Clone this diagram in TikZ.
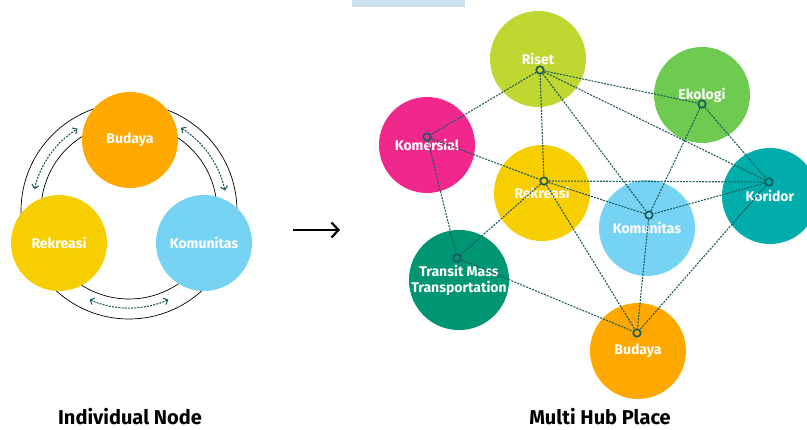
\documentclass[tikz,border=0pt]{standalone}
\usepackage{fontspec}
\setmainfont{Fira Sans}
\usepackage{xcolor}
\usetikzlibrary{arrows.meta}
\tikzset{>=latex}
\definecolor{budaya}{RGB}{255,168,0}
\definecolor{rekreasi}{RGB}{247,206,0}
\definecolor{komunitas}{RGB}{118,211,243}
\definecolor{riset}{RGB}{191,215,48}
\definecolor{ekologi}{RGB}{111,203,79}
\definecolor{komersial}{RGB}{240,40,140}
\definecolor{koridor}{RGB}{0,173,170}
\definecolor{transit}{RGB}{0,150,115}
\definecolor{linkcol}{RGB}{30,91,94}
\definecolor{topbar}{RGB}{204,224,238}
\tikzset{
    place/.style={circle, minimum size=96pt, inner sep=0pt, text=white, align=center,
        font=\fontsize{14}{16}\selectfont\bfseries},
    hubdot/.style={circle, draw=linkcol, line width=1.7pt, minimum size=7.5pt, inner sep=0pt},
    link/.style={linkcol, line width=1.1pt, dash pattern=on 2pt off 1.2pt},
    ring/.style={line width=0.7pt},
    title/.style={font=\fontsize{20}{22}\selectfont\bfseries}
}

\begin{document}
\begin{tikzpicture}[x=1pt, y=-1pt]
    \useasboundingbox (0,0) rectangle (807,430);
    \fill [topbar] (352,0) rectangle (465,7);

    % individual node
    \begin{scope}
        \draw [ring] (129,211) circle (108);
        \draw [ring] (129,211) circle (88);
        \draw [link, {Straight Barb[length=3.5pt]}-{Straight Barb[length=3.5pt]}] (129,211) ++(193:97) arc [start angle=193, end angle=238, radius=97];
        \draw [link, {Straight Barb[length=3.5pt]}-{Straight Barb[length=3.5pt]}] (129,211) ++(302:98) arc [start angle=302, end angle=348, radius=98];
        \draw [link, {Straight Barb[length=3.5pt]}-{Straight Barb[length=3.5pt]}] (129,211) ++(66:97) arc [start angle=66, end angle=114, radius=97];
        \node [place, fill=budaya] (budaya-l) at (130,140) {Budaya};
        \node [place, fill=rekreasi] (rekreasi-l) at (59,243) {Rekreasi};
        \node [place, fill=komunitas] (komunitas-l) at (204,243) {Komunitas};
        \node [title] (title-l) at (130,417) {Individual Node};
    \end{scope}

    \coordinate (arr-a) at (293,230);
    \coordinate (arr-b) at (340,230);
    \draw [line width=2.2pt, -{Straight Barb[length=7pt, width=15pt]}] (arr-a) -- (arr-b);

    % multi hub place
    \begin{scope}
        \node [place, fill=riset] (riset) at (538,59) {Riset};
        \node [place, fill=ekologi] (ekologi) at (702,95) {Ekologi};
        \node [place, fill=komersial] (komersial) at (427,145) {Komersial};
        \node [place, fill=rekreasi] (rekreasi) at (542,193) {Rekreasi};
        \node [place, fill=koridor] (koridor) at (770,196) {Koridor};
        \node [place, fill=komunitas] (komunitas) at (647,228) {Komunitas};
        \node [place, fill=transit] (transit) at (459,280) {Transit Mass\\Transportation};
        \node [place, fill=budaya] (budaya) at (638,351) {Budaya};

        \node [hubdot] (riset-p) at (540,70) {};
        \node [hubdot] (ekologi-p) at (702,104) {};
        \node [hubdot] (komersial-p) at (427,137) {};
        \node [hubdot] (rekreasi-p) at (544,181) {};
        \node [hubdot] (koridor-p) at (769,182) {};
        \node [hubdot] (komunitas-p) at (649,215) {};
        \node [hubdot] (transit-p) at (457,258) {};
        \node [hubdot] (budaya-p) at (637,333) {};

        \draw [link] (riset-p) -- (komersial-p);
        \draw [link] (riset-p) -- (rekreasi-p);
        \draw [link] (riset-p) -- (ekologi-p);
        \draw [link] (riset-p) -- (koridor-p);
        \draw [link] (riset-p) -- (komunitas-p);
        \draw [link] (ekologi-p) -- (komunitas-p);
        \draw [link] (ekologi-p) -- (koridor-p);
        \draw [link] (komersial-p) -- (rekreasi-p);
        \draw [link] (komersial-p) -- (transit-p);
        \draw [link] (rekreasi-p) -- (koridor-p);
        \draw [link] (rekreasi-p) -- (komunitas-p);
        \draw [link] (rekreasi-p) -- (transit-p);
        \draw [link] (rekreasi-p) -- (budaya-p);
        \draw [link] (koridor-p) -- (komunitas-p);
        \draw [link] (koridor-p) -- (budaya-p);
        \draw [link] (komunitas-p) -- (budaya-p);
        \draw [link] (transit-p) -- (budaya-p);

        \node [title] (title-r) at (600,417) {Multi Hub Place};
    \end{scope}
\end{tikzpicture}
\end{document}
